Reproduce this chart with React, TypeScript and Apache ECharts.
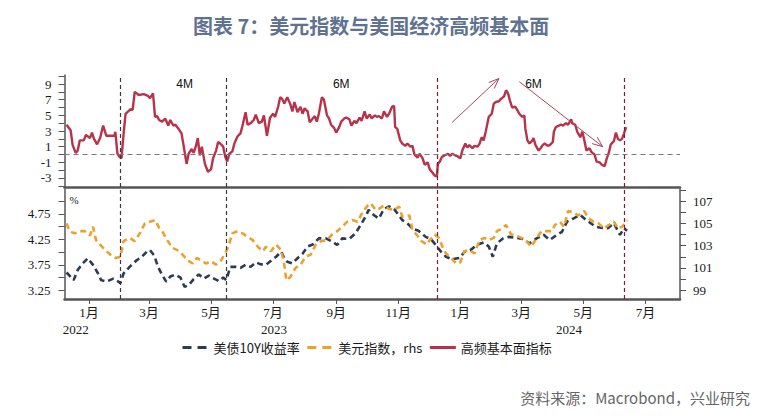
import React, { useEffect, useRef } from 'react';
import * as echarts from 'echarts';

// 时间轴范围
const axisStart = '2022-12-08';
const axisEnd = '2024-08-04';

// 高频基本面指标（上图）
const fundamentals: [string, number][] = [
  ['2022-12-10', 3.8], ['2022-12-14', 3.1], ['2022-12-16', 1.2], ['2022-12-19', 0.2], ['2022-12-21', 0.5],
  ['2022-12-23', 1.8], ['2022-12-27', 1.8], ['2022-12-29', 2.5], ['2023-01-02', 2.1], ['2023-01-04', 2.8],
  ['2023-01-06', 2.0], ['2023-01-09', 1.3], ['2023-01-12', 2.1], ['2023-01-15', 3.7], ['2023-01-18', 2.4],
  ['2023-01-22', 2.4], ['2023-01-26', 2.4], ['2023-01-27', 2.9], ['2023-01-29', 0.1], ['2023-01-31', -0.3],
  ['2023-02-02', -0.5], ['2023-02-04', 2.5], ['2023-02-06', 5.2], ['2023-02-11', 5.8], ['2023-02-13', 5.7],
  ['2023-02-15', 8.0], ['2023-02-19', 7.6], ['2023-02-24', 7.7], ['2023-02-28', 7.5], ['2023-03-02', 7.2],
  ['2023-03-05', 7.8], ['2023-03-07', 4.8], ['2023-03-09', 4.9], ['2023-03-11', 4.4], ['2023-03-14', 4.2],
  ['2023-03-17', 4.6], ['2023-03-20', 3.7], ['2023-03-22', 4.4], ['2023-03-25', 3.7], ['2023-03-27', 3.8],
  ['2023-03-30', 3.3], ['2023-04-02', 2.7], ['2023-04-04', 1.2], ['2023-04-07', -1.2], ['2023-04-09', 0.1],
  ['2023-04-12', 0.7], ['2023-04-14', 0.2], ['2023-04-16', 1.0], ['2023-04-18', 2.1], ['2023-04-20', -0.1],
  ['2023-04-22', 1.0], ['2023-04-25', -1.2], ['2023-04-28', -2.2], ['2023-05-01', -1.9], ['2023-05-03', -0.5],
  ['2023-05-06', 0.5], ['2023-05-08', 1.6], ['2023-05-10', 1.4], ['2023-05-13', 1.0], ['2023-05-15', -0.3],
  ['2023-05-17', -0.9], ['2023-05-19', 0.1], ['2023-05-22', 0.4], ['2023-05-24', 1.4], ['2023-05-27', 2.3],
  ['2023-05-30', 2.7], ['2023-06-01', 3.7], ['2023-06-04', 5.4], ['2023-06-06', 3.8], ['2023-06-09', 4.0],
  ['2023-06-12', 4.4], ['2023-06-14', 5.1], ['2023-06-17', 4.0], ['2023-06-20', 4.2], ['2023-06-22', 5.0],
  ['2023-06-25', 2.4], ['2023-06-28', 4.7], ['2023-07-01', 5.2], ['2023-07-03', 4.8], ['2023-07-06', 6.1],
  ['2023-07-08', 7.3], ['2023-07-10', 7.1], ['2023-07-12', 6.5], ['2023-07-15', 7.3], ['2023-07-18', 6.4],
  ['2023-07-20', 5.5], ['2023-07-22', 6.7], ['2023-07-25', 5.4], ['2023-07-28', 6.1], ['2023-07-30', 5.2],
  ['2023-08-01', 5.9], ['2023-08-04', 5.5], ['2023-08-06', 4.1], ['2023-08-09', 4.6], ['2023-08-11', 4.9],
  ['2023-08-13', 4.2], ['2023-08-15', 5.2], ['2023-08-18', 7.3], ['2023-08-20', 7.0], ['2023-08-23', 5.0],
  ['2023-08-25', 4.6], ['2023-08-27', 3.8], ['2023-08-30', 3.4], ['2023-09-01', 2.8], ['2023-09-04', 3.5],
  ['2023-09-06', 4.2], ['2023-09-09', 4.6], ['2023-09-11', 4.7], ['2023-09-14', 4.5], ['2023-09-16', 3.7],
  ['2023-09-19', 4.3], ['2023-09-21', 4.0], ['2023-09-24', 4.7], ['2023-09-26', 4.3], ['2023-09-29', 5.5],
  ['2023-10-01', 4.6], ['2023-10-04', 5.1], ['2023-10-06', 4.6], ['2023-10-09', 5.0], ['2023-10-11', 4.8],
  ['2023-10-13', 4.9], ['2023-10-16', 4.6], ['2023-10-18', 5.5], ['2023-10-21', 4.8], ['2023-10-23', 5.2],
  ['2023-10-26', 6.1], ['2023-10-28', 6.2], ['2023-10-29', 3.5], ['2023-10-31', 3.3], ['2023-11-03', 1.8],
  ['2023-11-05', 1.4], ['2023-11-08', 1.1], ['2023-11-10', 1.4], ['2023-11-13', 1.0], ['2023-11-15', 1.1],
  ['2023-11-17', 0.0], ['2023-11-20', -0.4], ['2023-11-22', 0.1], ['2023-11-25', -0.5], ['2023-11-27', -1.3],
  ['2023-11-30', -1.0], ['2023-12-02', -1.9], ['2023-12-04', -2.2], ['2023-12-07', -2.7], ['2023-12-09', -2.8],
  ['2023-12-10', -1.2], ['2023-12-12', -0.9], ['2023-12-14', -0.3], ['2023-12-17', -0.1], ['2023-12-20', 0.1],
  ['2023-12-22', -0.2], ['2023-12-24', 0.1], ['2023-12-27', -0.1], ['2023-12-29', -0.2], ['2024-01-01', -0.5],
  ['2024-01-03', 0.5], ['2024-01-06', 1.4], ['2024-01-08', 0.9], ['2024-01-10', 1.2], ['2024-01-13', 0.8],
  ['2024-01-15', 1.1], ['2024-01-18', 1.0], ['2024-01-20', 1.4], ['2024-01-22', 2.2], ['2024-01-24', 1.8],
  ['2024-01-26', 2.9], ['2024-01-29', 4.8], ['2024-02-01', 5.2], ['2024-02-03', 6.5], ['2024-02-05', 6.7],
  ['2024-02-08', 6.8], ['2024-02-10', 7.1], ['2024-02-13', 7.4], ['2024-02-15', 8.2], ['2024-02-17', 7.8],
  ['2024-02-19', 6.8], ['2024-02-21', 6.0], ['2024-02-24', 6.1], ['2024-02-26', 5.7], ['2024-02-28', 5.2],
  ['2024-03-02', 4.8], ['2024-03-04', 5.0], ['2024-03-05', 3.3], ['2024-03-07', 1.8], ['2024-03-09', 1.4],
  ['2024-03-12', 1.8], ['2024-03-13', 2.1], ['2024-03-15', 1.2], ['2024-03-18', 0.5], ['2024-03-20', 0.8],
  ['2024-03-22', 1.2], ['2024-03-24', 1.4], ['2024-03-27', 1.1], ['2024-03-29', 1.2], ['2024-04-01', 1.6],
  ['2024-04-02', 2.9], ['2024-04-04', 3.5], ['2024-04-07', 3.7], ['2024-04-09', 3.8], ['2024-04-11', 3.7],
  ['2024-04-14', 4.0], ['2024-04-16', 3.8], ['2024-04-19', 4.5], ['2024-04-20', 4.0], ['2024-04-23', 3.8],
  ['2024-04-25', 2.9], ['2024-04-28', 2.2], ['2024-04-30', 2.9], ['2024-05-02', 1.8], ['2024-05-04', 0.5],
  ['2024-05-07', 0.8], ['2024-05-09', 0.3], ['2024-05-12', 0.0], ['2024-05-14', -0.9], ['2024-05-17', -1.0],
  ['2024-05-19', -1.3], ['2024-05-22', -1.5], ['2024-05-24', -0.5], ['2024-05-26', 0.2], ['2024-05-28', 1.3],
  ['2024-05-31', 1.7], ['2024-06-02', 2.8], ['2024-06-04', 2.0], ['2024-06-06', 1.8], ['2024-06-08', 2.0],
  ['2024-06-10', 2.7], ['2024-06-12', 3.5],
];

// 美债10Y收益率（%，左轴）
const ust10y: [string, number][] = [
  ['2022-12-10', 3.6], ['2022-12-17', 3.45], ['2022-12-21', 3.65], ['2022-12-26', 3.78], ['2022-12-31', 3.88],
  ['2023-01-05', 3.75], ['2023-01-10', 3.58], ['2023-01-13', 3.45], ['2023-01-18', 3.42], ['2023-01-25', 3.48],
  ['2023-01-30', 3.42], ['2023-02-01', 3.39], ['2023-02-04', 3.58], ['2023-02-10', 3.71], ['2023-02-17', 3.84],
  ['2023-02-22', 3.91], ['2023-02-27', 4.01], ['2023-03-02', 4.04], ['2023-03-06', 3.94], ['2023-03-10', 3.71],
  ['2023-03-14', 3.55], ['2023-03-18', 3.42], ['2023-03-22', 3.52], ['2023-03-27', 3.56], ['2023-04-01', 3.5],
  ['2023-04-05', 3.32], ['2023-04-09', 3.35], ['2023-04-14', 3.47], ['2023-04-19', 3.56], ['2023-04-24', 3.48],
  ['2023-04-29', 3.54], ['2023-05-04', 3.48], ['2023-05-09', 3.43], ['2023-05-13', 3.5], ['2023-05-16', 3.45],
  ['2023-05-20', 3.71], ['2023-05-25', 3.71], ['2023-05-30', 3.69], ['2023-06-04', 3.75], ['2023-06-09', 3.71],
  ['2023-06-14', 3.8], ['2023-06-19', 3.76], ['2023-06-24', 3.75], ['2023-06-29', 3.83], ['2023-07-04', 3.91],
  ['2023-07-09', 4.01], ['2023-07-12', 3.88], ['2023-07-15', 3.81], ['2023-07-20', 3.78], ['2023-07-25', 3.88],
  ['2023-07-30', 3.97], ['2023-08-04', 4.11], ['2023-08-09', 4.15], ['2023-08-15', 4.27], ['2023-08-22', 4.27],
  ['2023-08-28', 4.21], ['2023-09-02', 4.14], ['2023-09-07', 4.27], ['2023-09-14', 4.26], ['2023-09-20', 4.37],
  ['2023-09-25', 4.53], ['2023-09-30', 4.7], ['2023-10-03', 4.83], ['2023-10-08', 4.73], ['2023-10-13', 4.66],
  ['2023-10-18', 4.85], ['2023-10-23', 4.9], ['2023-10-28', 4.85], ['2023-11-05', 4.63], ['2023-11-10', 4.57],
  ['2023-11-15', 4.46], ['2023-11-21', 4.42], ['2023-11-28', 4.3], ['2023-12-03', 4.26], ['2023-12-08', 4.14],
  ['2023-12-13', 4.01], ['2023-12-18', 3.91], ['2023-12-24', 3.86], ['2024-01-01', 3.89], ['2024-01-05', 4.01],
  ['2024-01-11', 4.04], ['2024-01-18', 4.15], ['2024-01-24', 4.19], ['2024-01-29', 4.11], ['2024-02-02', 3.91],
  ['2024-02-06', 4.17], ['2024-02-12', 4.27], ['2024-02-18', 4.3], ['2024-02-25', 4.28], ['2024-03-03', 4.26],
  ['2024-03-09', 4.17], ['2024-03-16', 4.27], ['2024-03-23', 4.34], ['2024-03-29', 4.24], ['2024-04-05', 4.34],
  ['2024-04-10', 4.4], ['2024-04-15', 4.6], ['2024-04-21', 4.66], ['2024-04-28', 4.73], ['2024-05-02', 4.66],
  ['2024-05-06', 4.6], ['2024-05-13', 4.5], ['2024-05-18', 4.48], ['2024-05-25', 4.47], ['2024-05-31', 4.57],
  ['2024-06-06', 4.34], ['2024-06-10', 4.47], ['2024-06-13', 4.42],
];

// 美元指数（右轴）
const dxy: [string, number][] = [
  ['2022-12-10', 105.0], ['2022-12-13', 104.3], ['2022-12-18', 104.1], ['2022-12-23', 104.3], ['2022-12-28', 104.3],
  ['2023-01-02', 103.9], ['2023-01-05', 104.7], ['2023-01-08', 103.5], ['2023-01-12', 103.1], ['2023-01-17', 102.6],
  ['2023-01-22', 102.2], ['2023-01-27', 101.9], ['2023-02-01', 102.0], ['2023-02-04', 103.4], ['2023-02-10', 103.7],
  ['2023-02-15', 103.4], ['2023-02-20', 104.1], ['2023-02-25', 105.0], ['2023-03-02', 105.15], ['2023-03-07', 105.3],
  ['2023-03-11', 104.6], ['2023-03-14', 104.3], ['2023-03-19', 103.5], ['2023-03-24', 102.8], ['2023-03-29', 102.6],
  ['2023-04-03', 102.2], ['2023-04-08', 101.7], ['2023-04-13', 101.4], ['2023-04-17', 101.9], ['2023-04-21', 101.7],
  ['2023-04-26', 101.4], ['2023-05-01', 101.6], ['2023-05-06', 101.3], ['2023-05-11', 101.7], ['2023-05-16', 102.5],
  ['2023-05-19', 103.2], ['2023-05-22', 104.1], ['2023-05-27', 104.3], ['2023-06-01', 104.1], ['2023-06-06', 103.8],
  ['2023-06-11', 103.5], ['2023-06-16', 102.9], ['2023-06-21', 102.5], ['2023-06-24', 102.9], ['2023-06-29', 102.5],
  ['2023-07-04', 103.1], ['2023-07-09', 102.6], ['2023-07-12', 101.3], ['2023-07-14', 99.9], ['2023-07-18', 100.2],
  ['2023-07-23', 101.0], ['2023-07-28', 101.3], ['2023-08-02', 102.0], ['2023-08-07', 102.2], ['2023-08-12', 103.1],
  ['2023-08-17', 103.4], ['2023-08-23', 103.5], ['2023-08-28', 104.0], ['2023-09-02', 104.3], ['2023-09-07', 104.7],
  ['2023-09-12', 105.15], ['2023-09-17', 105.3], ['2023-09-22', 105.15], ['2023-09-27', 106.0], ['2023-10-02', 106.6],
  ['2023-10-05', 106.8], ['2023-10-10', 106.2], ['2023-10-13', 106.3], ['2023-10-18', 106.6], ['2023-10-23', 106.3],
  ['2023-10-28', 106.2], ['2023-11-02', 106.5], ['2023-11-05', 105.6], ['2023-11-12', 105.7], ['2023-11-15', 104.4],
  ['2023-11-19', 104.0], ['2023-11-24', 103.4], ['2023-11-29', 103.1], ['2023-12-02', 103.5], ['2023-12-07', 104.0],
  ['2023-12-11', 103.7], ['2023-12-15', 102.8], ['2023-12-18', 102.3], ['2023-12-23', 101.9], ['2023-12-28', 101.4],
  ['2024-01-01', 101.5], ['2024-01-05', 102.5], ['2024-01-10', 102.6], ['2024-01-15', 102.3], ['2024-01-20', 103.5],
  ['2024-01-25', 103.7], ['2024-01-29', 103.5], ['2024-02-03', 103.7], ['2024-02-06', 104.3], ['2024-02-11', 104.55],
  ['2024-02-15', 104.85], ['2024-02-20', 104.0], ['2024-02-25', 103.9], ['2024-03-01', 103.7], ['2024-03-06', 103.4],
  ['2024-03-11', 102.9], ['2024-03-16', 103.7], ['2024-03-21', 104.3], ['2024-03-26', 104.3], ['2024-03-31', 104.3],
  ['2024-04-03', 104.85], ['2024-04-08', 105.15], ['2024-04-12', 104.7], ['2024-04-16', 106.1], ['2024-04-21', 106.0],
  ['2024-04-26', 105.7], ['2024-05-02', 106.1], ['2024-05-06', 105.45], ['2024-05-11', 105.15], ['2024-05-16', 105.0],
  ['2024-05-21', 104.55], ['2024-05-26', 104.85], ['2024-05-31', 105.15], ['2024-06-04', 104.55], ['2024-06-08', 104.7],
  ['2024-06-12', 105.15], ['2024-06-13', 105.3],
];

// 刻度
const monthTicks = [
  '2023-01-01', '2023-03-01', '2023-05-01', '2023-07-01', '2023-09-01', '2023-11-01',
  '2024-01-01', '2024-03-01', '2024-05-01', '2024-07-01',
];
const yearLabelDates = ['2022-12-19', '2023-07-02', '2024-04-17'];
const topTicks = [-4, -3, -2, -1, 0, 1, 2, 3, 4, 5, 6, 7, 8, 9, 10];
const topLabels = [-3, -1, 1, 3, 5, 7, 9];
const yieldTicks = [3.25, 3.5, 3.75, 4.0, 4.25, 4.5, 4.75, 5.0];
const yieldLabels = [3.25, 3.75, 4.25, 4.75];
const dxyTicks = [99, 100, 101, 102, 103, 104, 105, 106, 107, 108];
const dxyLabels = [99, 101, 103, 105, 107];

// 窗口分隔线、标注与趋势箭头
const windowDates = ['2023-02-01', '2023-05-16', '2023-12-09', '2024-06-10'];
const windowLabels: [string, number, string][] = [
  ['2023-04-05', 9, '4M'],
  ['2023-09-06', 9, '6M'],
  ['2024-03-13', 9, '6M'],
];
const trendArrows: [string, number, string, number][] = [
  ['2023-12-24', 4.1, '2024-02-08', 9.7],
  ['2024-02-28', 9.3, '2024-05-20', 1.0],
];

const ts = (s: string) => new Date(s + 'T00:00:00').getTime();

const RED = '#b8334a';
const NAVY = '#2c3a56';
const ORANGE = '#eaa22f';
const AXIS = '#555555';
const SERIF = "'Liberation Serif', 'Noto Sans CJK SC', serif";
const SANS = "'Noto Sans CJK SC', sans-serif";
const lineColors = ['#3a3a3a', '#3a3a3a', '#7d1d32', '#7d1d32'];

const App: React.FC = () => {
  const refChart = useRef<HTMLDivElement>(null);

  useEffect(() => {
    document.body.style.margin = '0';
    if (!refChart.current) return;
    const chart = echarts.init(refChart.current, undefined, { renderer: 'svg' });

    const xMin = ts(axisStart);
    const xMax = ts(axisEnd);

    const verticalLines = windowDates.map((d, i) => ({
      xAxis: ts(d),
      lineStyle: { color: lineColors[i], type: [4, 3], width: 1.2 },
    }));

    const labelStyle = { fontFamily: SERIF, fontSize: 13, color: '#1a1a1a' };

    const option = {
      animation: false,
      backgroundColor: '#ffffff',
      title: {
        text: '图表 7：美元指数与美国经济高频基本面',
        left: 188,
        top: 10,
        textStyle: { fontFamily: SANS, fontSize: 20, fontWeight: 'bold', color: '#5f7391' },
      },
      legend: {
        left: 176,
        top: 336,
        itemWidth: 26,
        itemHeight: 10,
        itemGap: 6,
        itemStyle: { opacity: 0 },
        textStyle: { fontFamily: SANS, fontSize: 13, color: '#1a1a1a' },
        data: [
          { name: '美债10Y收益率', lineStyle: { type: [9, 6], width: 3 } },
          { name: '美元指数，rhs', lineStyle: { type: [9, 6], width: 3 } },
          { name: '高频基本面指标', lineStyle: { width: 3 } },
        ],
      },
      grid: [
        { left: 64.5, right: 81, top: 75, height: 112 },
        { left: 64.5, right: 81, top: 189, height: 110 },
      ],
      xAxis: [
        {
          type: 'value', gridIndex: 0, min: xMin, max: xMax, position: 'bottom',
          axisLine: { onZero: false, lineStyle: { color: AXIS, width: 2.5 } },
          axisTick: { show: false }, axisLabel: { show: false }, splitLine: { show: false },
        },
        {
          type: 'value', gridIndex: 1, min: xMin, max: xMax, position: 'bottom',
          axisLine: { onZero: false, lineStyle: { color: AXIS, width: 2.5 } },
          axisTick: { show: true, length: 5, lineStyle: { color: AXIS }, customValues: monthTicks.map(ts) },
          axisLabel: {
            ...labelStyle, margin: 7, customValues: monthTicks.map(ts), hideOverlap: false,
            formatter: (v: number) => `${new Date(v).getMonth() + 1}月`,
          },
          splitLine: { show: false },
        },
        {
          type: 'value', gridIndex: 1, min: xMin, max: xMax, position: 'bottom', offset: 0,
          axisLine: { show: false, onZero: false }, axisTick: { show: false }, splitLine: { show: false },
          axisLabel: {
            ...labelStyle, margin: 24, customValues: yearLabelDates.map(ts), hideOverlap: false,
            formatter: (v: number) => `${new Date(v).getFullYear()}`,
          },
        },
      ],
      yAxis: [
        {
          type: 'value', gridIndex: 0, min: -4.15, max: 10.15,
          axisLine: { show: true, onZero: false, lineStyle: { color: AXIS, width: 1.5 } },
          axisTick: { show: true, length: 6, lineStyle: { color: AXIS }, customValues: topTicks },
          axisLabel: { ...labelStyle, margin: 13, customValues: topLabels },
          splitLine: { show: false },
        },
        {
          type: 'value', gridIndex: 1, min: 3.079, max: 5.241,
          name: '%', nameLocation: 'end', nameGap: -16,
          nameTextStyle: { fontFamily: SERIF, fontSize: 11, color: '#1a1a1a', align: 'left', padding: [0, 0, 0, 5] },
          axisLine: { show: true, onZero: false, lineStyle: { color: AXIS, width: 1.5 } },
          axisTick: { show: true, length: 6, lineStyle: { color: AXIS }, customValues: yieldTicks },
          axisLabel: { ...labelStyle, margin: 14, customValues: yieldLabels, formatter: (v: number) => v.toFixed(2) },
          splitLine: { show: false },
        },
        {
          type: 'value', gridIndex: 1, position: 'right', min: 98.22, max: 108.08,
          axisLine: { show: true, onZero: false, lineStyle: { color: AXIS, width: 1.5 } },
          axisTick: { show: true, length: 6, lineStyle: { color: AXIS }, customValues: dxyTicks },
          axisLabel: { ...labelStyle, margin: 13, customValues: dxyLabels },
          splitLine: { show: false },
        },
      ],
      series: [
        {
          name: '高频基本面指标',
          type: 'line',
          xAxisIndex: 0,
          yAxisIndex: 0,
          data: fundamentals.map(([d, v]) => [ts(d), v]),
          showSymbol: false,
          symbol: 'none',
          z: 3,
          lineStyle: { color: RED, width: 2.4 },
          itemStyle: { color: RED },
          markLine: {
            silent: true,
            symbol: 'none',
            label: { show: false },
            data: [
              { yAxis: 0, lineStyle: { color: '#7a7a7a', type: [5, 4], width: 1.2 } },
              ...verticalLines,
            ],
          },
          markPoint: {
            silent: true,
            symbol: 'circle',
            symbolSize: 1,
            itemStyle: { color: 'rgba(0,0,0,0)' },
            label: {
              show: true, position: 'inside', formatter: '{b}',
              fontFamily: "'Liberation Sans', sans-serif", fontSize: 12, color: '#111',
            },
            data: windowLabels.map(([d, v, n]) => ({ name: n, coord: [ts(d), v] })),
          },
        },
        {
          name: '美债10Y收益率',
          type: 'line',
          xAxisIndex: 1,
          yAxisIndex: 1,
          data: ust10y.map(([d, v]) => [ts(d), v]),
          showSymbol: false,
          symbol: 'none',
          lineStyle: { color: NAVY, width: 2.6, type: [6, 4] },
          itemStyle: { color: NAVY },
          markLine: {
            silent: true,
            symbol: 'none',
            label: { show: false },
            data: verticalLines,
          },
        },
        {
          name: '美元指数，rhs',
          type: 'line',
          xAxisIndex: 1,
          yAxisIndex: 2,
          data: dxy.map(([d, v]) => [ts(d), v]),
          showSymbol: false,
          symbol: 'none',
          lineStyle: { color: ORANGE, width: 2.6, type: [6, 4] },
          itemStyle: { color: ORANGE },
        },
        {
          type: 'custom',
          xAxisIndex: 0,
          yAxisIndex: 0,
          silent: true,
          z: 5,
          encode: { x: [0, 2], y: [1, 3] },
          data: trendArrows.map(([d1, v1, d2, v2]) => [ts(d1), v1, ts(d2), v2]),
          renderItem: (_params: any, api: any) => {
            const p1 = api.coord([api.value(0), api.value(1)]);
            const p2 = api.coord([api.value(2), api.value(3)]);
            const ang = Math.atan2(p2[1] - p1[1], p2[0] - p1[0]);
            const h = 11;
            const spread = 0.38;
            const a1 = [p2[0] - h * Math.cos(ang - spread), p2[1] - h * Math.sin(ang - spread)];
            const a2 = [p2[0] - h * Math.cos(ang + spread), p2[1] - h * Math.sin(ang + spread)];
            const stroke = '#a8475a';
            return {
              type: 'group',
              children: [
                { type: 'line', shape: { x1: p1[0], y1: p1[1], x2: p2[0], y2: p2[1] }, style: { stroke, lineWidth: 1 } },
                { type: 'polyline', shape: { points: [a1, p2, a2] }, style: { stroke, fill: 'none', lineWidth: 1 } },
              ],
            };
          },
        },
      ],
      graphic: [
        {
          type: 'text',
          right: 11,
          top: 390,
          style: {
            text: '资料来源：Macrobond，兴业研究',
            fontFamily: SANS,
            fontSize: 15,
            fill: '#666666',
          },
        },
      ],
    };

    chart.setOption(option as any);

    return () => chart.dispose();
  }, []);

  return <div ref={refChart} style={{ width: '761px', height: '419px' }} />;
};

export default App;
